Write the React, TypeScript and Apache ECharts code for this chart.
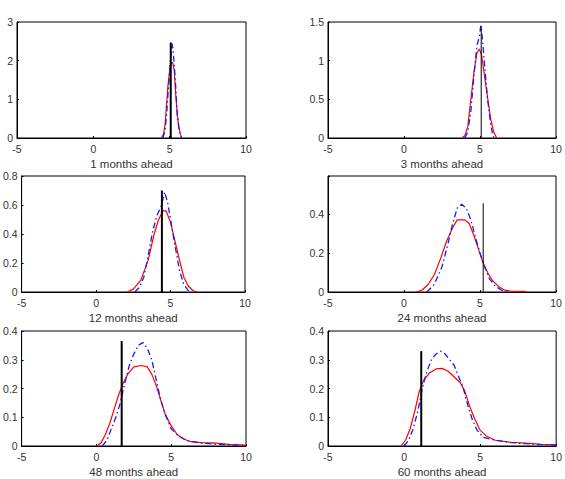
import React, { useEffect, useRef } from "react";
import * as echarts from "echarts";

const panelTitles = ["1 months ahead", "3 months ahead", "12 months ahead", "24 months ahead", "48 months ahead", "60 months ahead"];
const xTicks = { min: -5, max: 10, interval: 5 };
const yMax = [3, 1.5, 0.8, 0.595, 0.4, 0.4];
const yInterval = [1, 0.5, 0.2, 0.2, 0.1, 0.1];

// red solid density
const red1 = [[4.45,0],[4.6,0.1],[4.7,0.35],[4.8,0.9],[4.9,1.4],[5.0,1.75],[5.1,1.93],[5.2,1.95],[5.3,1.75],[5.4,1.1],[5.5,0.6],[5.6,0.3],[5.7,0.1],[5.8,0]];
const red2 = [[3.8,0],[4.0,0.03],[4.2,0.15],[4.4,0.5],[4.6,0.85],[4.8,1.1],[4.95,1.15],[5.1,1.08],[5.3,0.8],[5.5,0.52],[5.7,0.25],[5.9,0.08],[6.1,0]];
const red3 = [[2.1,0],[2.5,0.02],[3.0,0.08],[3.5,0.22],[3.9,0.4],[4.2,0.5],[4.5,0.56],[4.7,0.56],[5.0,0.48],[5.3,0.35],[5.6,0.22],[5.9,0.1],[6.2,0.04],[6.5,0.01],[6.8,0]];
const red4 = [[0.8,0],[1.2,0.01],[1.6,0.04],[2.0,0.09],[2.4,0.17],[2.8,0.26],[3.2,0.33],[3.5,0.37],[4.0,0.37],[4.3,0.35],[4.6,0.29],[4.9,0.22],[5.2,0.15],[5.5,0.1],[5.8,0.06],[6.2,0.03],[6.6,0.01],[7.0,0.005],[8.0,0.003]];
const red5 = [[0,0],[0.3,0.01],[0.6,0.04],[0.9,0.08],[1.2,0.13],[1.5,0.18],[1.8,0.22],[2.1,0.25],[2.5,0.275],[3.0,0.28],[3.4,0.275],[3.7,0.25],[4.0,0.21],[4.3,0.16],[4.6,0.11],[5.0,0.07],[5.4,0.04],[5.8,0.025],[6.3,0.015],[7.0,0.012],[8.0,0.01],[9.0,0.005],[10,0.003]];
const red6 = [[-0.2,0],[0.1,0.02],[0.4,0.06],[0.7,0.12],[1.0,0.19],[1.3,0.23],[1.7,0.255],[2.1,0.268],[2.5,0.27],[2.9,0.26],[3.3,0.24],[3.7,0.22],[4.0,0.19],[4.3,0.14],[4.6,0.1],[5.0,0.055],[5.4,0.035],[6.0,0.02],[7.0,0.013],[8.0,0.01],[9.0,0.006],[10,0.004]];

// blue dash-dot density
const blue1 = [[4.55,0],[4.7,0.2],[4.8,0.6],[4.9,1.2],[5.0,1.7],[5.1,2.3],[5.15,2.45],[5.2,2.35],[5.3,1.9],[5.4,1.3],[5.5,0.6],[5.6,0.25],[5.7,0.05],[5.8,0]];
const blue2 = [[4.0,0],[4.2,0.08],[4.4,0.35],[4.6,0.8],[4.8,1.2],[4.95,1.3],[5.05,1.45],[5.15,1.3],[5.3,0.95],[5.5,0.5],[5.7,0.18],[5.85,0.03],[5.95,0]];
const blue3 = [[2.6,0],[2.9,0.03],[3.2,0.1],[3.5,0.25],[3.8,0.42],[4.1,0.53],[4.4,0.6],[4.6,0.69],[4.8,0.62],[5.0,0.5],[5.3,0.32],[5.6,0.15],[5.9,0.05],[6.2,0.01],[6.4,0]];
const blue4 = [[1.5,0],[2.0,0.04],[2.5,0.13],[2.9,0.25],[3.2,0.35],[3.5,0.43],[3.8,0.45],[4.1,0.43],[4.4,0.37],[4.7,0.28],[5.0,0.2],[5.3,0.13],[5.6,0.07],[6.0,0.03],[6.4,0.01],[6.8,0]];
const blue5 = [[0.4,0],[0.7,0.02],[1.0,0.06],[1.3,0.1],[1.6,0.15],[1.9,0.22],[2.2,0.28],[2.5,0.32],[2.8,0.35],[3.1,0.36],[3.4,0.34],[3.7,0.3],[4.0,0.23],[4.3,0.16],[4.6,0.11],[5.0,0.06],[5.5,0.035],[6.0,0.02],[7.0,0.01],[8.0,0.006],[9.0,0.004],[10,0.003]];
const blue6 = [[0.0,0],[0.3,0.02],[0.6,0.06],[0.9,0.12],[1.2,0.2],[1.5,0.26],[1.8,0.3],[2.1,0.32],[2.4,0.33],[2.7,0.32],[3.0,0.3],[3.3,0.28],[3.6,0.24],[3.9,0.2],[4.2,0.14],[4.5,0.09],[4.8,0.055],[5.2,0.03],[6.0,0.02],[7.0,0.012],[8.0,0.008],[9.0,0.005],[10,0.003]];

// realised value (black vertical line): x position and height
const actualX = [5.07, 5.08, 4.42, 5.21, 1.69, 1.13];
const actualH = [2.47, 1.45, 0.70, 0.455, 0.365, 0.33];

const reds = [red1, red2, red3, red4, red5, red6];
const blues = [blue1, blue2, blue3, blue4, blue5, blue6];

const grids = [
  { left: 17, top: 22, width: 229, height: 116 },
  { left: 328, top: 22, width: 228, height: 116 },
  { left: 17, top: 176, width: 228, height: 116 },
  { left: 328, top: 176, width: 228, height: 116 },
  { left: 17, top: 331, width: 229, height: 115 },
  { left: 328, top: 331, width: 229, height: 115 },
];
const blackWidths = [2, 1, 2, 1, 2, 2];

export default function App() {
  const ref = useRef<HTMLDivElement>(null);
  useEffect(() => {
    if (!ref.current) return;
    const chart = echarts.init(ref.current, null, { renderer: "svg" });
    const font = "Liberation Sans, Arial, sans-serif";
    const labelColor = "#333";
    const option: any = {
      animation: false,
      backgroundColor: "#fff",
      grid: grids.map((g) => ({ ...g, show: true, borderColor: "#000", borderWidth: 1, backgroundColor: "transparent" })),
      xAxis: grids.map((_, i) => ({
        type: "value",
        gridIndex: i,
        min: xTicks.min,
        max: xTicks.max,
        interval: xTicks.interval,
        name: panelTitles[i],
        nameLocation: "middle",
        nameGap: 20,
        nameTextStyle: { fontFamily: font, fontSize: 11.5, color: labelColor },
        axisLine: { show: true, onZero: false, lineStyle: { color: "#000", width: 1 } },
        axisTick: { show: true, inside: true, length: 2, lineStyle: { color: "#000" } },
        splitLine: { show: false },
        axisLabel: { fontFamily: font, fontSize: 10.5, color: labelColor, margin: 5 },
      })),
      yAxis: grids.map((_, i) => ({
        type: "value",
        gridIndex: i,
        min: 0,
        max: yMax[i],
        interval: yInterval[i],
        axisLine: { show: true, onZero: false, lineStyle: { color: "#000", width: 1 } },
        axisTick: { show: true, inside: true, length: 2, lineStyle: { color: "#000" } },
        splitLine: { show: false },
        axisLabel: {
          fontFamily: font,
          fontSize: 10.5,
          color: labelColor,
          margin: 4,
          formatter: (v: number) => {
            const k = v / yInterval[i];
            if (Math.abs(k - Math.round(k)) > 1e-6) return "";
            return String(Math.round(v * 100) / 100);
          },
        },
      })),
      series: [] as any[],
    };
    for (let i = 0; i < 6; i++) {
      option.series.push({
        type: "line",
        xAxisIndex: i,
        yAxisIndex: i,
        data: reds[i],
        showSymbol: false,
        symbol: "none",
        lineStyle: { color: "#ff0000", width: 1.2 },
        z: 3,
      });
      option.series.push({
        type: "line",
        xAxisIndex: i,
        yAxisIndex: i,
        data: blues[i],
        showSymbol: false,
        symbol: "none",
        lineStyle: { color: "#1a1aff", width: 1.3, type: [6, 3, 1.5, 3] },
        z: 4,
      });
      option.series.push({
        type: "line",
        xAxisIndex: i,
        yAxisIndex: i,
        data: [[actualX[i], 0], [actualX[i], actualH[i]]],
        showSymbol: false,
        symbol: "none",
        lineStyle: { color: "#000", width: blackWidths[i] },
        z: 5,
      });
    }
    chart.setOption(option);
    return () => chart.dispose();
  }, []);
  return <div ref={ref} style={{ position: "absolute", left: 0, top: 0, width: 565, height: 479 }} />;
}
